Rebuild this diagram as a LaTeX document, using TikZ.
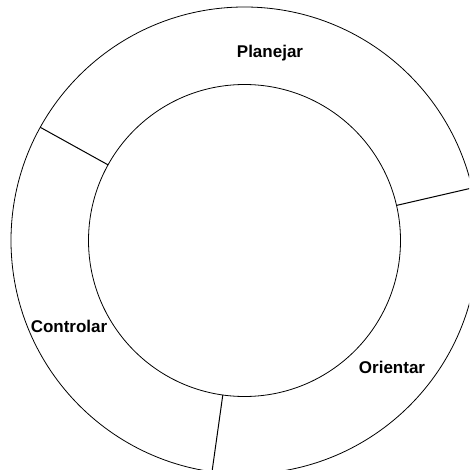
\documentclass[tikz,border=0pt]{standalone}
\usepackage{fontspec}
\setmainfont{Liberation Sans}
\begin{document}
\begin{tikzpicture}[x=1pt,y=-1pt,
  ring/.style={circle, draw=black, line width=0.8pt, inner sep=0pt, outer sep=0pt},
  divider/.style={draw=black, line width=1pt},
  lbl/.style={font=\fontsize{17}{20}\selectfont\bfseries, inner sep=0pt}]
\useasboundingbox (0,0) rectangle (469,470);
\clip (0,0) rectangle (469,470);
\node[ring, minimum size=467pt] (outer) at (244.5,240.5) {};
\node[ring, minimum size=312pt] (inner) at (244.5,240.5) {};
\draw[divider] (outer.151.4) -- (inner.151.4);
\draw[divider] (outer.13.5) -- (inner.13.5);
\draw[divider] (outer.262.1) -- (inner.262.1);
\node[lbl] (planejar) at (270,53) {Planejar};
\node[lbl] (controlar) at (69,326) {Controlar};
\node[lbl] (orientar) at (392,367) {Orientar};
\end{tikzpicture}
\end{document}
